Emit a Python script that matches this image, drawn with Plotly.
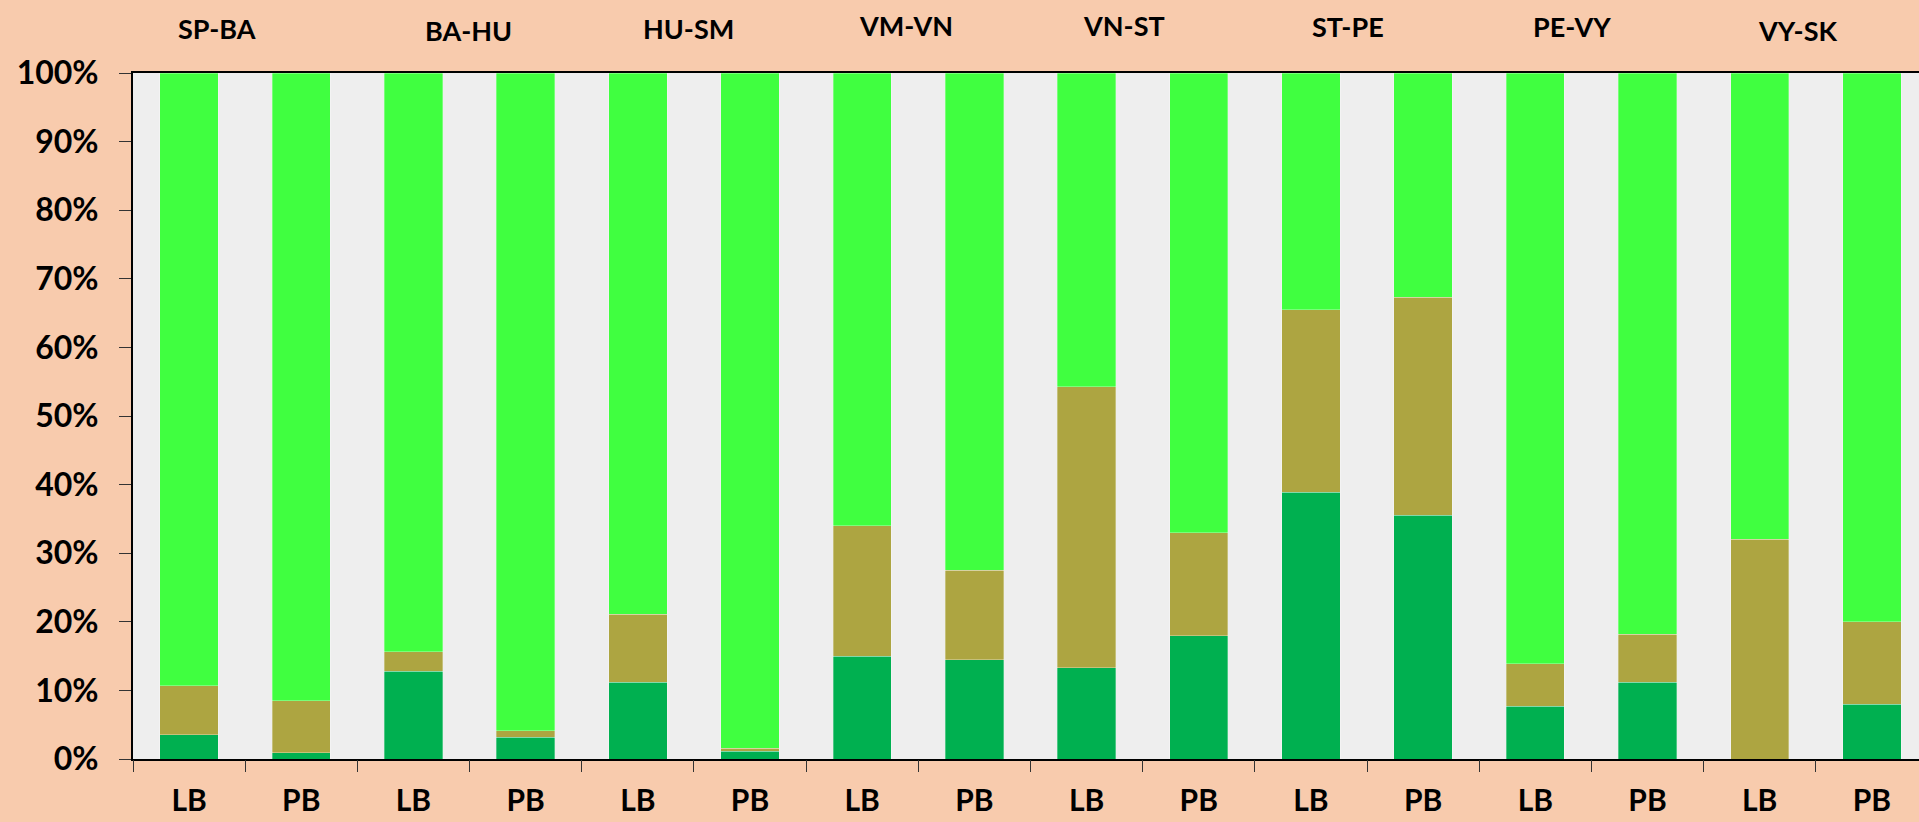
import plotly.graph_objects as go

segments = ["SP-BA", "BA-HU", "HU-SM", "VM-VN", "VN-ST", "ST-PE", "PE-VY", "VY-SK"]
sides = ["LB", "PB"]
# percentages (stacked to 100%), order: LB, PB per segment
dark_green = [3.5, 0.9, 12.8, 3.2, 11.2, 1.1, 15.0, 14.5, 13.3, 18.0, 38.9, 35.5, 7.7, 11.2, 0.0, 8.0]
olive = [7.2, 7.6, 2.8, 0.9, 9.9, 0.5, 19.0, 13.0, 41.0, 15.0, 26.6, 31.8, 6.2, 7.0, 32.0, 12.0]
bright_green = [100 - a - b for a, b in zip(dark_green, olive)]

tick_labels = [s for _ in segments for s in sides]
xs = list(range(len(tick_labels)))
x_max = 15.42

fig = go.Figure()
for vals, col in [(dark_green, "#00B050"), (olive, "#ADA541"), (bright_green, "#40FF40")]:
    fig.add_trace(go.Bar(x=xs, y=[v / 100 for v in vals],
                         marker=dict(color=col, line=dict(width=0.6, color="rgba(255,255,255,0.5)")),
                         showlegend=False, hoverinfo="skip"))

# invisible trace so the boundary-tick axis renders
fig.add_trace(go.Scatter(x=[-0.5], y=[0], xaxis="x2", mode="markers", marker=dict(opacity=0),
                         showlegend=False, hoverinfo="skip"))

plot_top, plot_h = 73, 822 - 73 - 63
title_dy = [28, 30, 28, 26, 25, 27, 27, 30]  # px from top of page
title_dx = [0.25, 0.49, 0.45, 0.39, 0.33, 0.33, 0.33, 0.34]  # offset within each LB/PB pair
for i, seg in enumerate(segments):
    fig.add_annotation(x=2 * i + title_dx[i], xref="x", y=1 + (plot_top - title_dy[i]) / plot_h, yref="paper",
                       text=f"<b>{seg}</b>", showarrow=False,
                       font=dict(family="Lato", size=27, color="black"), yanchor="middle")

fig.update_layout(
    width=1919, height=822,
    barmode="stack", bargap=0.48,
    paper_bgcolor="#F8CBAD", plot_bgcolor="#EEEEEE",
    margin=dict(l=133, r=0, t=plot_top, b=63),
    font=dict(family="Lato", color="black"),
    xaxis=dict(range=[-0.5, x_max], tickvals=xs, ticktext=[f"<b>{t}</b>" for t in tick_labels],
               tickfont=dict(size=30), ticks="", ticklabelstandoff=14, showgrid=False, zeroline=False,
               automargin=False,
               showline=True, linecolor="black", linewidth=2, mirror=True, fixedrange=True),
    xaxis2=dict(range=[-0.5, x_max], overlaying="x", anchor="y", side="bottom", showline=False,
                automargin=False,
                tickvals=[i - 0.5 for i in range(len(tick_labels) + 1)], showticklabels=False,
                ticks="outside", ticklen=12, tickwidth=1.2, tickcolor="#333333", showgrid=False, zeroline=False),
    yaxis=dict(range=[0, 1], tickvals=[i / 10 for i in range(11)], automargin=False,
               ticktext=[f"<b>{i*10}%</b>" for i in range(11)], ticklabelstandoff=14,
               tickfont=dict(size=32), ticks="outside", ticklen=12, tickcolor="#333333",
               showgrid=False, zeroline=False, showline=True, linecolor="black", linewidth=2),
)
fig.write_html("out.html", config={"displayModeBar": False},
               post_script="document.body.style.margin='0';document.body.style.overflow='hidden';document.body.style.background='#F8CBAD';")
